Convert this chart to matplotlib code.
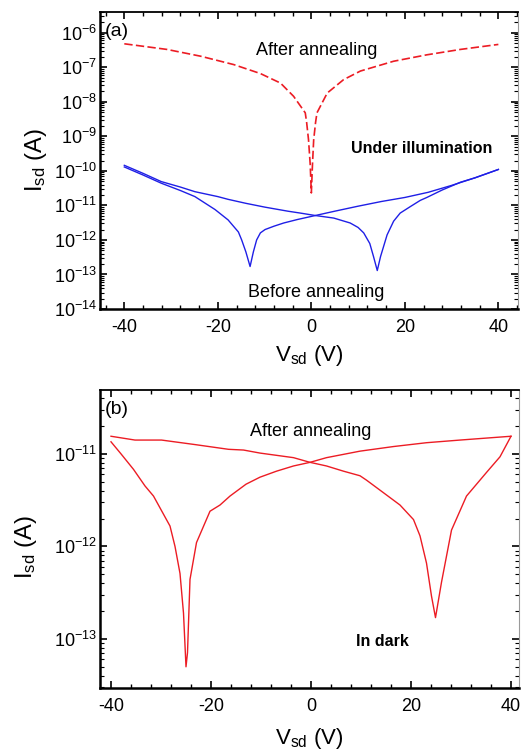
import matplotlib
matplotlib.use("Agg")
import matplotlib.pyplot as plt
from matplotlib.ticker import MultipleLocator, LogLocator, NullFormatter, LogFormatterSciNotation, FixedLocator

plt.rcParams['font.family'] = ['Liberation Sans', 'DejaVu Sans']
plt.rcParams['mathtext.fontset'] = 'custom'
plt.rcParams['mathtext.rm'] = 'Liberation Sans'
plt.rcParams['mathtext.it'] = 'Liberation Sans:italic'
plt.rcParams['mathtext.bf'] = 'Liberation Sans:bold'
plt.rcParams['axes.unicode_minus'] = False

# ---------------- data: panel (a), under illumination ----------------
after_a_v = [-40, -30.9, -23.7, -16.6, -10.9, -6.6, -3.8, -1.3, -1.0, -0.6, -0.25, 0,
             0.25, 0.5, 0.9, 1.2, 3.4, 6.9, 10.5, 17.6, 24.7, 31.9, 40]
after_a_i = [4.8e-7, 3.3e-7, 2.1e-7, 1.2e-7, 6.6e-8, 3.5e-8, 1.45e-8, 4.8e-9, 2.5e-9, 7.9e-10, 1.6e-10, 2.3e-11,
             1.6e-10, 7.9e-10, 2.5e-9, 4.8e-9, 1.8e-8, 4.4e-8, 7.8e-8, 1.5e-7, 2.3e-7, 3.3e-7, 4.6e-7]

before_fwd_v = [-40, -36, -32.1, -28, -24.9, -20.6, -17.8, -15.6, -14.9, -14, -13.1, -12.4, -11.7,
                -10.9, -9.9, -8, -5.9, -3, 0.85, 5, 10, 15, 20, 25, 30, 35, 40]
before_fwd_i = [1.3e-10, 7.6e-11, 4.4e-11, 2.7e-11, 1.8e-11, 7.6e-12, 3.8e-12, 1.7e-12, 1.0e-12, 4.5e-13,
                1.7e-13, 4.5e-13, 1.0e-12, 1.6e-12, 2.0e-12, 2.5e-12, 3.1e-12, 3.9e-12, 5.1e-12, 6.8e-12,
                9.5e-12, 1.3e-11, 1.7e-11, 2.4e-11, 3.8e-11, 6.3e-11, 1.1e-10]

before_rev_v = [-40, -36, -32.1, -28, -24.9, -20, -17.8, -14, -9.9, -5, -2.35, 0.85, 4.8, 8.3, 10,
                11.2, 12.5, 13.3, 14.1, 14.8, 16.2, 17.6, 19, 21.2, 23.3, 24.7, 28, 31.9, 35, 40]
before_rev_i = [1.45e-10, 8.5e-11, 4.9e-11, 3.4e-11, 2.5e-11, 1.8e-11, 1.5e-11, 1.15e-11, 8.9e-12,
                6.8e-12, 6.0e-12, 5.1e-12, 4.3e-12, 3.1e-12, 2.3e-12, 1.6e-12, 7.9e-13, 3.3e-13,
                1.3e-13, 3.3e-13, 1.4e-12, 3.5e-12, 6.0e-12, 9.3e-12, 1.4e-11, 1.7e-11, 2.8e-11,
                4.7e-11, 6.3e-11, 1.1e-10]

# ---------------- data: panel (b), in dark ----------------
dark_c_v = [-40, -38, -35.5, -33.2, -31.5, -28.2, -27.2, -26.2, -25.5, -25, -24.7, -24.2, -22.9,
            -20.2, -18.2, -16.2, -13, -10.2, -6.9, -3.5, -0.2, 3.1, 9.8, 16.5, 23.1, 29.8, 35, 40]
dark_c_i = [1.35e-11, 1.0e-11, 6.8e-12, 4.5e-12, 3.5e-12, 1.66e-12, 1.0e-12, 5.1e-13, 1.9e-13,
            5.0e-14, 7.1e-14, 4.4e-13, 1.1e-12, 2.4e-12, 2.8e-12, 3.5e-12, 4.7e-12, 5.6e-12,
            6.5e-12, 7.4e-12, 8.1e-12, 9.1e-12, 1.07e-11, 1.2e-11, 1.32e-11, 1.41e-11, 1.48e-11, 1.55e-11]

dark_d_v = [-40, -35.2, -29.9, -23.2, -16.5, -13.5, -10.2, -3.5, -0.2, 3.1, 6.5, 9.8, 11.1, 14.5,
            17.8, 20.5, 21.8, 23.1, 24.1, 24.9, 26.1, 28.1, 31.1, 35.1, 37.8, 40]
dark_d_i = [1.55e-11, 1.41e-11, 1.41e-11, 1.26e-11, 1.12e-11, 1.1e-11, 1.02e-11, 9.1e-12, 8.1e-12,
            7.4e-12, 6.5e-12, 5.8e-12, 5.2e-12, 3.8e-12, 2.8e-12, 1.95e-12, 1.3e-12, 6.6e-13,
            2.9e-13, 1.7e-13, 4.1e-13, 1.5e-12, 3.5e-12, 6.3e-12, 9.3e-12, 1.55e-11]

x_major = [-40, -20, 0, 20, 40]
y_major_a = [1e-14, 1e-13, 1e-12, 1e-11, 1e-10, 1e-9, 1e-8, 1e-7, 1e-6]
y_major_b = [1e-13, 1e-12, 1e-11]

RED = '#ec1c24'
BLUE = '#1f1fe6'

fig = plt.figure(figsize=(5.21, 7.51), dpi=100)
W, H = 521.0, 751.0
ax1 = fig.add_axes([100 / W, 1 - 309 / H, 418 / W, 297 / H])
ax2 = fig.add_axes([100 / W, 1 - 688 / H, 419 / W, 298 / H])


def style(ax, ymaj):
    ax.set_yscale('log')
    ax.xaxis.set_major_locator(FixedLocator(x_major))
    ax.xaxis.set_minor_locator(MultipleLocator(4))
    ax.yaxis.set_major_locator(FixedLocator(ymaj))
    ax.yaxis.set_minor_locator(LogLocator(base=10, subs=range(2, 10), numticks=20))
    ax.yaxis.set_minor_formatter(NullFormatter())
    ax.yaxis.set_major_formatter(LogFormatterSciNotation())
    ax.tick_params(axis='both', which='both', direction='in', top=True, right=True, labelsize=13)
    ax.tick_params(axis='x', which='major', length=5, width=1.2, pad=7)
    ax.tick_params(axis='x', which='minor', length=3, width=1.0)
    ax.tick_params(axis='y', which='major', length=5, width=1.2, pad=2)
    ax.tick_params(axis='y', which='minor', length=3, width=0.8)
    ax.spines['left'].set_linewidth(1.8)
    ax.spines['bottom'].set_linewidth(1.8)
    ax.spines['top'].set_linewidth(1.3)
    ax.spines['right'].set_linewidth(0.8)
    ax.spines['right'].set_color('#9a9a9a')
    for t in ax.yaxis.get_ticklines(minor=False)[1::2]:
        t.set_color('#777777')
    for t in ax.yaxis.get_ticklines(minor=True)[1::2]:
        t.set_color('#777777')


# ---------- panel (a) ----------
ax1.plot(after_a_v, after_a_i, color=RED, lw=1.2, linestyle=(0, (5, 2)))
ax1.plot(before_fwd_v, before_fwd_i, color=BLUE, lw=1.0)
ax1.plot(before_rev_v, before_rev_i, color=BLUE, lw=1.0)
ax1.set_xlim(-45.2, 44.2)
ax1.set_ylim(1e-14, 4.0e-6)
style(ax1, y_major_a)
ax1.set_xlabel('V$_{\\mathrm{sd}}$ (V)', fontsize=16)
ax1.xaxis.set_label_coords(0.5, -0.115)
ax1.xaxis.label.set_va('top')
ax1.set_ylabel('I$_{\\mathrm{sd}}$ (A)', fontsize=17)
ax1.yaxis.set_label_coords(-0.153, 0.5)
ax1.yaxis.label.set_va('center')
ax1.text(0.012, 0.936, '(a)', transform=ax1.transAxes, fontsize=14, ha='left', va='center')
ax1.text(0.518, 0.855, 'After annealing', transform=ax1.transAxes, fontsize=13, ha='center', va='baseline')
ax1.text(0.770, 0.526, 'Under illumination', transform=ax1.transAxes, fontsize=11.5,
         fontweight='bold', ha='center', va='baseline')
ax1.text(0.518, 0.041, 'Before annealing', transform=ax1.transAxes, fontsize=13, ha='center', va='baseline')

# ---------- panel (b) ----------
ax2.plot(dark_c_v, dark_c_i, color=RED, lw=1.0)
ax2.plot(dark_d_v, dark_d_i, color=RED, lw=1.0)
ax2.set_xlim(-42.2, 41.6)
ax2.set_ylim(2.95e-14, 4.9e-11)
style(ax2, y_major_b)
ax2.set_xlabel('V$_{\\mathrm{sd}}$ (V)', fontsize=16)
ax2.xaxis.set_label_coords(0.5, -0.128)
ax2.xaxis.label.set_va('top')
ax2.set_ylabel('I$_{\\mathrm{sd}}$ (A)', fontsize=17)
ax2.yaxis.set_label_coords(-0.177, 0.473)
ax2.yaxis.label.set_va('center')
ax2.text(0.012, 0.936, '(b)', transform=ax2.transAxes, fontsize=14, ha='left', va='center')
ax2.text(0.503, 0.846, 'After annealing', transform=ax2.transAxes, fontsize=13, ha='center', va='baseline')
ax2.text(0.673, 0.141, 'In dark', transform=ax2.transAxes, fontsize=11.5,
         fontweight='bold', ha='center', va='baseline')

fig.savefig('out.png', dpi=100)
